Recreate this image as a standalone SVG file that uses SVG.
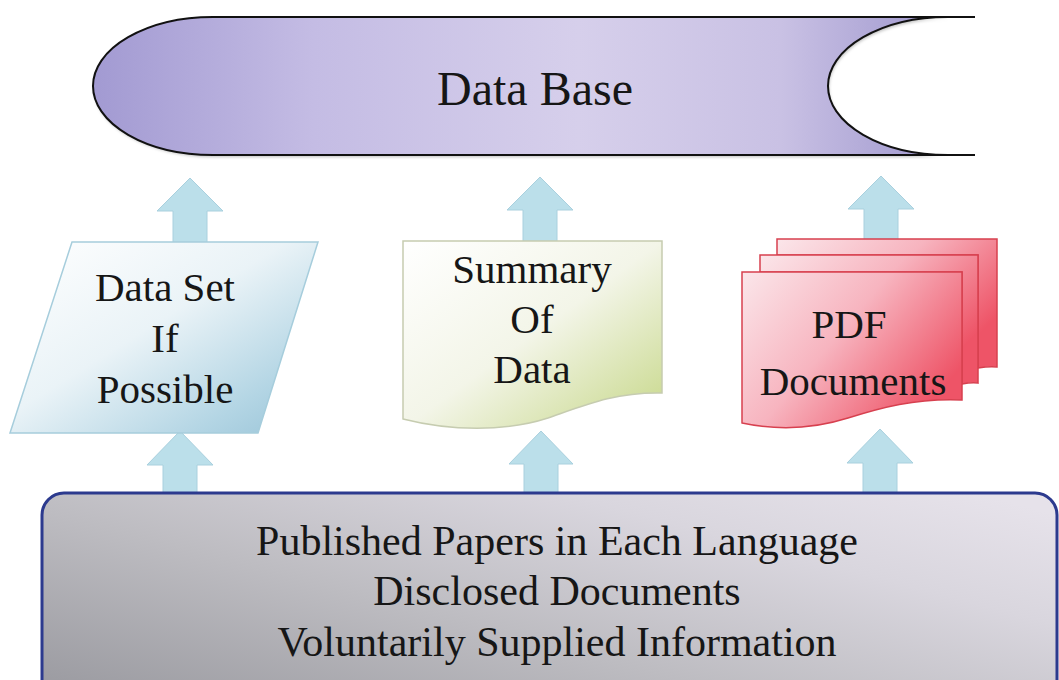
<svg xmlns="http://www.w3.org/2000/svg" width="1059" height="680" viewBox="0 0 1059 680">
  <defs>
    <style>
      text { font-family: 'Liberation Serif', 'Times New Roman', serif; fill: #161616; text-anchor: middle; }
      .arrow { fill: #bbdfea; stroke: #a9d0de; stroke-width: 1; }
    </style>
    <linearGradient id="dbFill" x1="93" y1="0" x2="975" y2="0" gradientUnits="userSpaceOnUse">
      <stop offset="0" stop-color="#a29ad2"/>
      <stop offset="0.25" stop-color="#c4bce4"/>
      <stop offset="0.55" stop-color="#d6cfeb"/>
      <stop offset="0.78" stop-color="#c9c1e4"/>
      <stop offset="0.92" stop-color="#a9a1d3"/>
      <stop offset="1" stop-color="#9a92ca"/>
    </linearGradient>
    <linearGradient id="paraFill" x1="0" y1="0" x2="1" y2="1">
      <stop offset="0" stop-color="#ffffff"/>
      <stop offset="0.45" stop-color="#eaf3f7"/>
      <stop offset="0.8" stop-color="#b3d5e4"/>
      <stop offset="1" stop-color="#98c3d7"/>
    </linearGradient>
    <linearGradient id="docFill" x1="0" y1="0" x2="1" y2="1">
      <stop offset="0" stop-color="#ffffff"/>
      <stop offset="0.5" stop-color="#f3f5e8"/>
      <stop offset="1" stop-color="#c6d787"/>
    </linearGradient>
    <linearGradient id="pdfFill" x1="0" y1="0" x2="1" y2="0.6">
      <stop offset="0" stop-color="#fbe6ea"/>
      <stop offset="0.5" stop-color="#f7b4bf"/>
      <stop offset="1" stop-color="#ee5467"/>
    </linearGradient>
    <linearGradient id="srcFill" x1="0" y1="0.9" x2="1" y2="0.1">
      <stop offset="0" stop-color="#9b9ba1"/>
      <stop offset="0.4" stop-color="#bdbcc1"/>
      <stop offset="0.75" stop-color="#d9d6de"/>
      <stop offset="1" stop-color="#e6e2ea"/>
    </linearGradient>
    <filter id="soft" x="-5%" y="-10%" width="110%" height="130%">
      <feDropShadow dx="1" dy="2" stdDeviation="1.5" flood-color="#000" flood-opacity="0.25"/>
    </filter>
  </defs>

  <rect width="1059" height="680" fill="#ffffff"/>

  <!-- block arrows -->
  <g id="connectors">
    <path class="arrow" d="M190,178 L223,211 H207 V244 H173 V211 H157 Z"/>
    <path class="arrow" d="M540,177 L573,210 H557 V244 H523 V210 H507 Z"/>
    <path class="arrow" d="M881,176 L914,209 H898 V242 H864 V209 H848 Z"/>
    <path class="arrow" d="M180,431 L213,465 H197 V496 H163 V465 H147 Z"/>
    <path class="arrow" d="M541,431 L573,464 H558 V496 H524 V464 H509 Z"/>
    <path class="arrow" d="M880,429 L913,463 H897 V496 H863 V463 H847 Z"/>
  </g>

  <!-- stored data -->
  <g id="database">
    <path d="M213,17 H948 A120,69 0 0 0 948,155 H213 A120,69 0 0 1 213,17 Z" fill="url(#dbFill)" filter="url(#soft)"/>
    <path d="M975,17 H213 A120,69 0 0 0 213,155 H975 M948,17 A120,69 0 0 0 948,155" fill="none" stroke="#111" stroke-width="2"/>
    <text x="535" y="105" font-size="48">Data Base</text>
  </g>

  <!-- data set -->
  <g id="dataset">
    <path d="M72,242 H318 L258,433 H10 Z" fill="url(#paraFill)" stroke="#a6cddc" stroke-width="1.5"/>
    <text x="165" y="301" font-size="41">Data Set</text>
    <text x="165" y="352" font-size="41">If</text>
    <text x="165" y="403" font-size="41">Possible</text>
  </g>

  <!-- summary document -->
  <g id="summary">
    <path d="M403,241 H662 V393 C615,392 585,405 548,418 C505,432 450,431 403,419 Z" fill="url(#docFill)" stroke="#c6ccb0" stroke-width="1.5"/>
    <text x="532" y="283" font-size="41">Summary</text>
    <text x="532" y="333" font-size="41">Of</text>
    <text x="532" y="383" font-size="41">Data</text>
  </g>

  <!-- stacked pdf documents -->
  <g id="pdf">
    <path d="M777,239 H997 V367 C990,366 984,367 978,368 V255 H777 Z" fill="url(#pdfFill)" stroke="#d7404f" stroke-width="1.5"/>
    <path d="M760,255 H978 V383 C972,382 967,383 962,384 V272 H760 Z" fill="url(#pdfFill)" stroke="#d7404f" stroke-width="1.5"/>
    <path d="M742,272 H962 V400 C915,398 880,408 848,418 C810,430 775,430 742,423 Z" fill="url(#pdfFill)" stroke="#d7404f" stroke-width="1.5"/>
    <text x="849" y="338" font-size="41">PDF</text>
    <text x="853" y="395" font-size="41">Documents</text>
  </g>

  <!-- sources -->
  <g id="sources">
    <rect x="42" y="493" width="1015" height="215" rx="22" ry="22" fill="url(#srcFill)" stroke="#2c3a8e" stroke-width="3"/>
    <text x="557" y="555" font-size="42">Published Papers in Each Language</text>
    <text x="557" y="605" font-size="42">Disclosed Documents</text>
    <text x="557" y="656" font-size="42">Voluntarily Supplied Information</text>
  </g>
</svg>
